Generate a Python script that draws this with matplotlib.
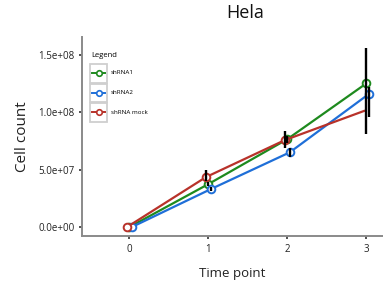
import matplotlib.pyplot as plt
from matplotlib.patches import Rectangle
from matplotlib.lines import Line2D

# data
time_points = [0, 1, 2, 3]
series_names = ["shRNA1", "shRNA2", "shRNA mock"]
shrna1 = [0.0, 3.74e7, 7.65e7, 1.25e8]
shrna2 = [0.0, 3.30e7, 6.50e7, 1.157e8]
shrna_mock = [0.0, 4.35e7, 7.57e7, 1.01e8]
shrna1_err_lo = [0, 0.2e7, 0.3e7, 4.4e7]
shrna1_err_hi = [0, 0.2e7, 0.3e7, 3.1e7]
shrna2_err_lo = [0, 0.2e7, 0.4e7, 2.0e7]
shrna2_err_hi = [0, 0.2e7, 0.4e7, 0.6e7]
mock_err_lo = [0, 0.3e7, 0.7e7, 0]
mock_err_hi = [0, 0.6e7, 0.8e7, 0]
y_ticks = [0, 5e7, 1e8, 1.5e8]
y_tick_labels = ["0.0e+00", "5.0e+07", "1.0e+08", "1.5e+08"]

colors = ["#1e8a1e", "#1f6fd8", "#b8322a"]
dodge = [0.0, 0.03, -0.03]

plt.rcParams['font.family'] = ['Open Sans', 'DejaVu Sans']

fig = plt.figure(figsize=(3.83, 2.9), dpi=100)
ax = fig.add_axes([0.214, 0.186, 0.786, 0.686])

values = [shrna1, shrna2, shrna_mock]
errs = [(shrna1_err_lo, shrna1_err_hi), (shrna2_err_lo, shrna2_err_hi), (mock_err_lo, mock_err_hi)]
marks = [None, None, [0, 1, 2]]

# lines and points
for vals, col, dx, mk in zip(values, colors, dodge, marks):
    xs = [t + dx for t in time_points]
    ax.plot(xs, vals, color=col, lw=1.6, marker="o", ms=5.5, mfc="white",
            mec=col, mew=1.4, markevery=mk, zorder=3, clip_on=False)

# error bars drawn over the points
for vals, (lo, hi), dx in zip(values, errs, dodge):
    xs = [t + dx for t in time_points]
    ax.errorbar(xs, vals, yerr=[lo, hi], fmt="none", ecolor="black",
                elinewidth=1.7, capsize=0, zorder=4)

ax.set_xlim(-0.6, 3.21)
ax.set_ylim(-0.78e7, 16.52e7)
ax.set_xticks(time_points)
ax.set_yticks(y_ticks)
ax.set_yticklabels(y_tick_labels)

for s in ["top", "right"]:
    ax.spines[s].set_visible(False)
for s in ["left", "bottom"]:
    ax.spines[s].set_color("#8a8a8a")
    ax.spines[s].set_linewidth(1.4)
ax.tick_params(length=2.5, width=1.2, color="#333333", labelsize=7,
               labelcolor="#222222", pad=3)

ax.set_xlabel("Time point", fontsize=9.5, color="#222222", labelpad=9)
ax.set_ylabel("Cell count", fontsize=11, color="#222222", labelpad=6)
fig.text(0.64, 0.955, "Hela", ha="center", va="center", fontsize=13, color="#111111")

# manual ggplot-like legend
fig.text(91 / 383, 1 - 56 / 290, "Legend", fontsize=5.5, va="center", ha="left")
for i, (name, col) in enumerate(zip(series_names, colors)):
    top = 64 + i * 19.5
    fig.patches.append(Rectangle((90 / 383, 1 - (top + 18.5) / 290), 17 / 383, 18.5 / 290,
                                 transform=fig.transFigure, facecolor="white",
                                 edgecolor="#cfcfcf", lw=1.3))
    cy = 1 - (top + 9) / 290
    fig.lines.append(Line2D([92 / 383, 105 / 383], [cy, cy], transform=fig.transFigure,
                            color=col, lw=1.4))
    fig.lines.append(Line2D([98.5 / 383], [cy], transform=fig.transFigure, color=col,
                            marker="o", ms=4, mfc="white", mec=col, mew=1.2, ls="none"))
    fig.text(111 / 383, cy, name, fontsize=4.5, va="center", ha="left")

plt.savefig("out.png", dpi=100)
